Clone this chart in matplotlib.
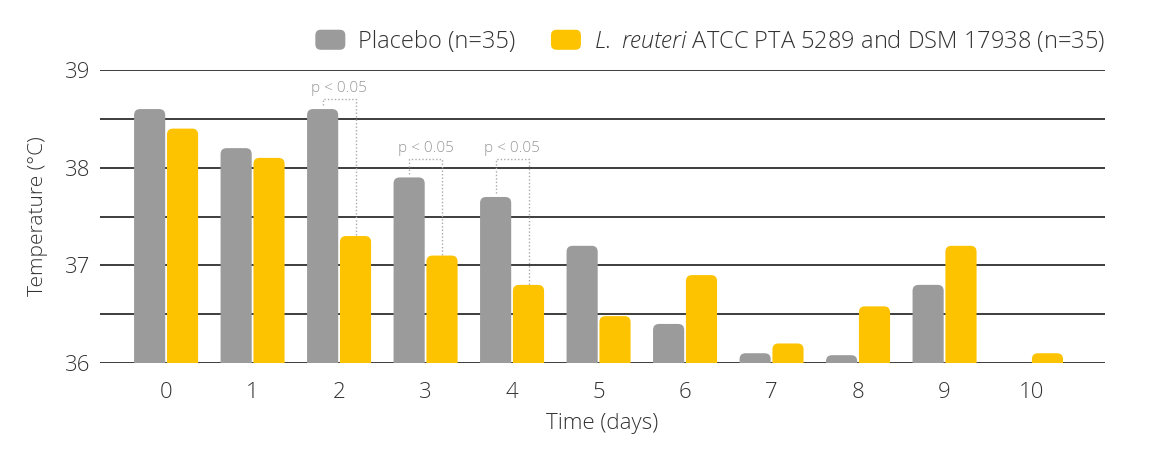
import numpy as np
import matplotlib
matplotlib.use("Agg")
from matplotlib import pyplot as plt
from matplotlib.patches import FancyBboxPatch, Patch
from matplotlib.legend_handler import HandlerPatch

# data
days = np.arange(11)
placebo = [38.6, 38.2, 38.6, 37.9, 37.7, 37.2, 36.4, 36.1, 36.08, 36.8, 36.0]
reuteri = [38.4, 38.1, 37.3, 37.1, 36.8, 36.48, 36.9, 36.2, 36.58, 37.2, 36.1]
sig_days = [2, 3, 4]
sig_levels = [38.7, 38.09, 38.09]
sig_text = "p < 0.05"

label_placebo = "Placebo (n=35)"
label_reuteri = r"$\mathit{L.\ reuteri}$ ATCC PTA 5289 and DSM 17938 (n=35)"

GREY = "#9a9b9a"
YELLOW = "#fdc300"
GRID = "#2e2e2e"
TEXT = "#333333"

plt.rcParams["font.family"] = ["Open Sans", "DejaVu Sans"]
plt.rcParams["font.weight"] = "light"
plt.rcParams["axes.labelweight"] = "light"
plt.rcParams["mathtext.fontset"] = "custom"
plt.rcParams["mathtext.rm"] = "Open Sans:light"
plt.rcParams["mathtext.it"] = "Open Sans:italic:light"

fig = plt.figure(figsize=(11.69, 4.65), dpi=100)
ax = fig.add_axes([100 / 1169, 1 - 363 / 465, 1005 / 1169, 293 / 465])

xmin, xmax = -0.764, 10.855
ymin, ymax = 36, 39
ax.set_xlim(xmin, xmax)
ax.set_ylim(ymin, ymax)

# gridlines every half degree, labels on whole degrees
ax.set_yticks([36, 37, 38, 39])
ax.set_yticks([36.5, 37.5, 38.5], minor=True)
ax.yaxis.grid(True, which="both", color=GRID, lw=1.3)
ax.set_axisbelow(True)
for s in ax.spines.values():
    s.set_visible(False)
ax.tick_params(axis="both", which="both", length=0, labelsize=16, labelcolor=TEXT)
ax.tick_params(axis="y", pad=7)
ax.tick_params(axis="x", pad=14)
ax.set_xticks(days)
ax.set_ylabel("Temperature (°C)", fontsize=15, color=TEXT, labelpad=12)
ax.set_xlabel("Time (days)", fontsize=16, color=TEXT, labelpad=7)

# rounded top bars: correct rounding for the non-square data aspect
width = 0.36
offset = 0.19
px_x = (xmax - xmin) / 1005
px_y = (ymax - ymin) / 293
aspect = px_y / px_x
radius = 6 * px_x
base = ymin - 0.15


def rounded_bars(xs, vals, color):
    for x, v in zip(xs, vals):
        p = FancyBboxPatch(
            (x - width / 2, base), width, v - base,
            boxstyle=f"round,pad=0,rounding_size={radius}",
            mutation_aspect=aspect, fc=color, ec="none", zorder=3,
        )
        ax.add_patch(p)


rounded_bars(days - offset, placebo, GREY)
rounded_bars(days + offset, reuteri, YELLOW)

# significance brackets
for d, lvl in zip(sig_days, sig_levels):
    x0 = d - offset
    x1 = d + offset
    ax.plot([x0, x0, x1, x1], [placebo[d] + 0.04, lvl, lvl, reuteri[d]],
            color="#aaaaaa", lw=1, ls=(0, (1, 1.5)), zorder=4, clip_on=False)
    ax.text(d, lvl + 0.03, sig_text, ha="center", va="bottom",
            fontsize=11, color="#999999")


def make_handle(legend, orig_handle, xdescent, ydescent, width, height, fontsize):
    return FancyBboxPatch((-xdescent, -ydescent), width, height,
                          boxstyle="round,pad=0,rounding_size=4")


handles = [Patch(fc=GREY, ec="none"), Patch(fc=YELLOW, ec="none")]
leg = ax.legend(
    handles, [label_placebo, label_reuteri],
    loc="lower right", bbox_to_anchor=(1.0, 1.055), ncol=2, frameon=False,
    fontsize=17, handlelength=1.27, handleheight=0.93, handletextpad=0.55,
    columnspacing=1.5, borderaxespad=0, borderpad=0,
    handler_map={Patch: HandlerPatch(patch_func=make_handle)},
)
for t in leg.get_texts():
    t.set_color(TEXT)

fig.savefig("out.png", dpi=100)
